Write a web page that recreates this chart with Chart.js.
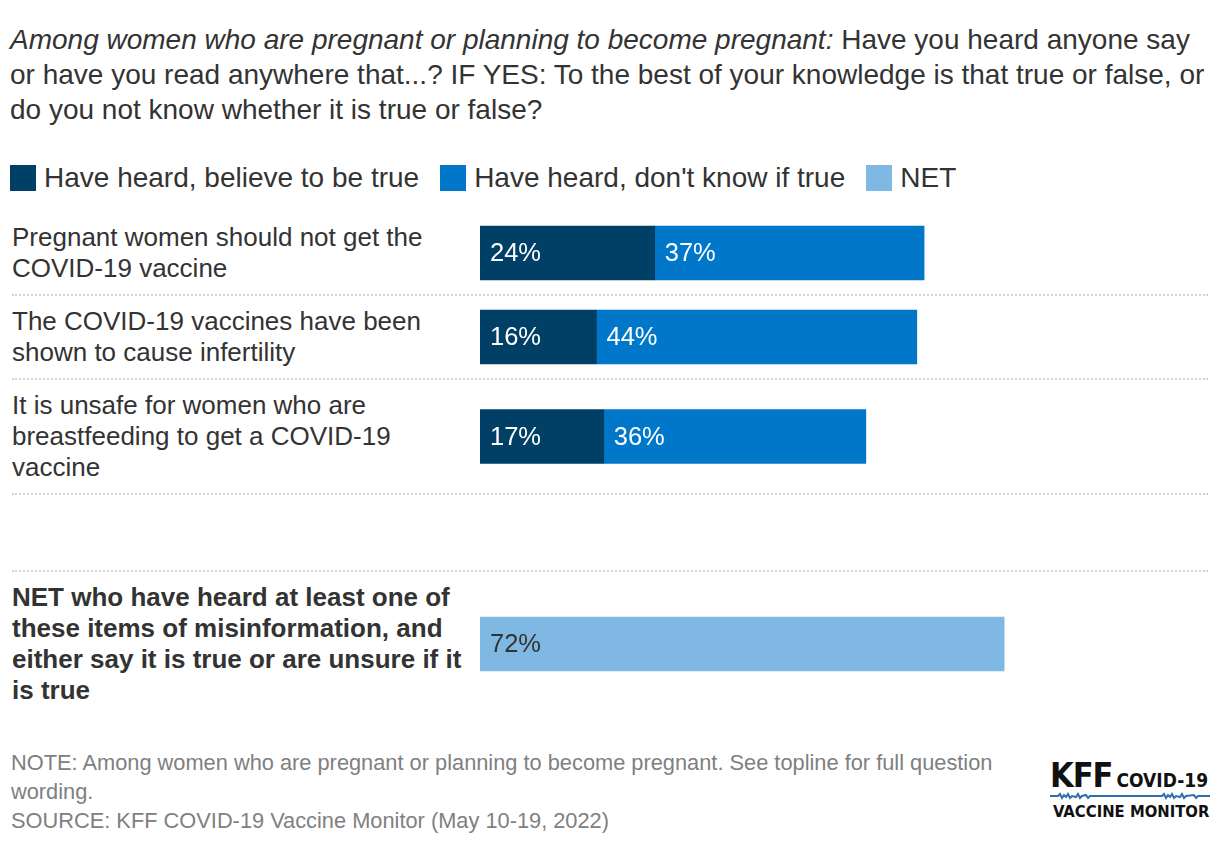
<!DOCTYPE html>
<html>
<head>
<meta charset="utf-8">
<script src="https://cdn.jsdelivr.net/npm/chart.js@4"></script>
<style>
    body { margin: 0; background: #fff; font-family: "Liberation Sans", Arial, sans-serif; color: #333; }
    #page { position: relative; width: 1220px; height: 844px; overflow: hidden; }
    #title { position: absolute; left: 10px; top: 22px; width: 1210px; font-size: 28px; line-height: 35px; white-space: nowrap; }
    #legend { position: absolute; left: 10px; top: 163px; display: flex; font-size: 28px; line-height: 30px; }
    .legItem { display: flex; align-items: center; margin-right: 21px; }
    .legBox { width: 26px; height: 26px; margin-right: 8px; }
    #rows { position: absolute; left: 12px; top: 212px; width: 1196px; }
    .row { display: flex; align-items: stretch; padding: 10px 0; }
    .row.sep { border-bottom: 2px dotted #d2d2d2; }
    .row.net { border-top: 2px dotted #d2d2d2; margin-top: 75px; }
    .label { width: 468px; font-size: 26px; line-height: 31px; white-space: pre-line; align-self: center; }
    .row.net .label { font-weight: bold; }
    .chartBox { position: relative; width: 728px; }
    .chartBox > div { position: absolute; left: 0; top: 0; right: 0; bottom: 0; }
    #note { position: absolute; left: 11px; top: 748px; font-size: 21.8px; line-height: 29px; color: #808080; width: 1010px; }
    #logo { position: absolute; left: 1050px; top: 758px; width: 160px; font-family: "DejaVu Sans Condensed", "DejaVu Sans", sans-serif; font-weight: bold; color: #111; }
    #logo .kff { font-size: 34px; line-height: 34px; letter-spacing: -1px; }
    #logo .covid { font-size: 19px; margin-left: 4px; }
    #logo .vm { font-size: 16.5px; line-height: 20px; margin-left: 3px; margin-top: 2px; }
</style>
</head>
<body>
<div id="page">
    <div id="title"><i>Among women who are pregnant or planning to become pregnant:</i> Have you heard anyone say<br>or have you read anywhere that...? IF YES: To the best of your knowledge is that true or false, or<br>do you not know whether it is true or false?</div>
    <div id="legend"></div>
    <div id="rows"></div>
    <div id="note">NOTE: Among women who are pregnant or planning to become pregnant. See topline for full question<br>wording.<br>SOURCE: KFF COVID-19 Vaccine Monitor (May 10-19, 2022)</div>
    <div id="logo">
        <div><span class="kff">KFF</span><span class="covid">COVID-19</span></div>
        <svg width="160" height="8" style="display:block">
            <polyline fill="none" stroke="#2f6ea8" stroke-width="2" points="0,4 8,4 10,2 12,6 14,3 16,5 18,2 20,6 22,4 26,5 28,2 30,6 32,4 36,3 38,6 40,4 112,4 114,2 116,6 118,3 120,5 122,2 124,6 126,4 130,5 132,2 134,6 136,4 144,3 146,6 148,4 160,4"/>
        </svg>
        <div class="vm">VACCINE MONITOR</div>
    </div>
</div>
<script>
const categories = [
    "Pregnant women should not get the\nCOVID-19 vaccine",
    "The COVID-19 vaccines have been\nshown to cause infertility",
    "It is unsafe for women who are\nbreastfeeding to get a COVID-19\nvaccine"
];
const believeTrue = [24, 16, 17];
const dontKnow = [37, 44, 36];
const netLabel = "NET who have heard at least one of\nthese items of misinformation, and\neither say it is true or are unsure if it\nis true";
const netValue = [72];
const legendLabels = ["Have heard, believe to be true", "Have heard, don't know if true", "NET"];
const colors = ["#003f66", "#0077c8", "#7fb9e3"];

const legend = document.getElementById('legend');
legendLabels.forEach((txt, i) => {
    const item = document.createElement('div');
    item.className = 'legItem';
    item.innerHTML = `<span class="legBox" style="background:${colors[i]}"></span><span>${txt}</span>`;
    legend.appendChild(item);
});

// writes the value inside each segment, at its left end
const insideLabels = {
    id: 'insideLabels',
    afterDatasetsDraw(chart) {
        const ctx = chart.ctx;
        ctx.save();
        ctx.font = '25.5px "Liberation Sans", Arial, sans-serif';
        ctx.textBaseline = 'middle';
        chart.data.datasets.forEach((ds, d) => {
            chart.getDatasetMeta(d).data.forEach((el, i) => {
                ctx.fillStyle = ds.labelColor;
                ctx.fillText(ds.data[i] + '%', el.base + 10, el.y + 1);
            });
        });
        ctx.restore();
    }
};

function makeRow(label, cls, datasets) {
    const row = document.createElement('div');
    row.className = 'row ' + cls;
    const lab = document.createElement('div');
    lab.className = 'label';
    lab.textContent = label;
    const box = document.createElement('div');
    box.className = 'chartBox';
    const inner = document.createElement('div');
    const canvas = document.createElement('canvas');
    inner.appendChild(canvas);
    box.appendChild(inner);
    row.appendChild(lab);
    row.appendChild(box);
    document.getElementById('rows').appendChild(row);

    new Chart(canvas, {
        type: 'bar',
        data: { labels: [label], datasets: datasets },
        options: {
            indexAxis: 'y',
            responsive: true,
            maintainAspectRatio: false,
            animation: false,
            layout: { padding: 0 },
            plugins: { legend: { display: false }, tooltip: { enabled: false } },
            scales: {
                x: { stacked: true, min: 0, max: 100, display: false },
                y: { stacked: true, display: false }
            }
        },
        plugins: [insideLabels]
    });
}

categories.forEach((cat, i) => {
    makeRow(cat, 'sep', [
        { data: [believeTrue[i]], backgroundColor: colors[0], barThickness: 54, labelColor: '#fff' },
        { data: [dontKnow[i]], backgroundColor: colors[1], barThickness: 54, labelColor: '#fff' }
    ]);
});
makeRow(netLabel, 'net', [
    { data: netValue, backgroundColor: colors[2], barThickness: 54, labelColor: '#333' }
]);
</script>
</body>
</html>
